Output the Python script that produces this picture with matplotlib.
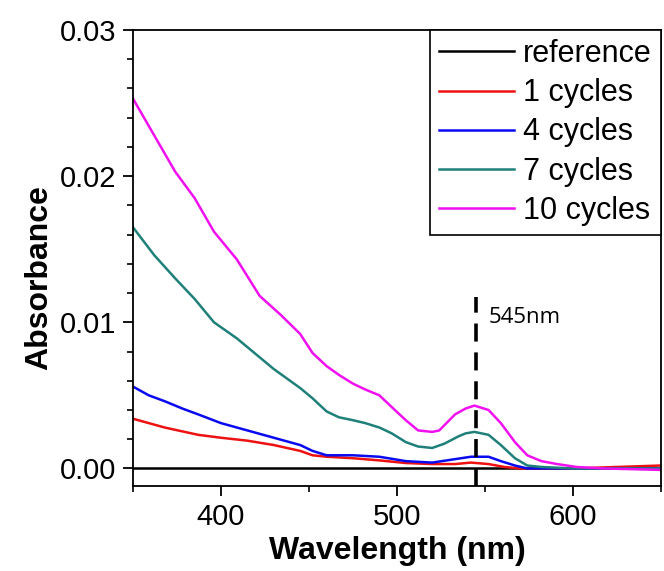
import matplotlib
matplotlib.use('Agg')
import matplotlib.pyplot as plt
from matplotlib.ticker import MultipleLocator, FormatStrFormatter

plt.rcParams['font.family'] = ['Liberation Sans', 'DejaVu Sans']

# values (wavelength in nm, absorbance)
wl_ref = [350, 400, 450, 500, 550, 600, 650]
abs_ref = [0.0000, 0.0000, 0.0000, 0.0000, 0.0000, 0.0000, 0.0000]

wl_1 = [350, 359, 368, 387, 400, 415, 430, 445, 452, 460, 475, 490, 505, 520, 524, 533,
        542, 552, 561, 570, 600, 625, 650]
abs_1 = [0.0034, 0.0031, 0.0028, 0.0023, 0.0021, 0.0019, 0.0016, 0.0012, 0.0009, 0.0008,
         0.0007, 0.00055, 0.00037, 0.0003, 0.0003, 0.0003, 0.0004, 0.0003, 0.0001, 0.0000,
         0.0000, 0.0001, 0.0002]

wl_4 = [350, 359, 368, 378, 387, 400, 415, 430, 445, 452, 460, 475, 490, 505, 520, 531,
        542, 552, 559, 567, 574, 650]
abs_4 = [0.0056, 0.0050, 0.0046, 0.0041, 0.0037, 0.0031, 0.0026, 0.0021, 0.0016, 0.0012,
         0.0009, 0.0009, 0.0008, 0.0005, 0.0004, 0.0006, 0.0008, 0.0008, 0.0005, 0.0002,
         0.0000, 0.0000]

wl_7 = [350, 362, 374, 385, 396, 409, 421, 430, 445, 452, 460, 467, 475, 482, 490, 497,
        505, 512, 520, 527, 535, 539, 544, 552, 559, 567, 574, 582, 600, 650]
abs_7 = [0.0165, 0.0146, 0.0130, 0.0116, 0.0100, 0.0089, 0.0077, 0.0068, 0.0055, 0.0048,
         0.0039, 0.0035, 0.0033, 0.0031, 0.0028, 0.0024, 0.0018, 0.0015, 0.0014, 0.0017,
         0.0022, 0.0024, 0.0025, 0.0023, 0.0016, 0.0007, 0.0002, 0.0001, 0.0000, 0.0000]

wl_10 = [350, 362, 374, 385, 396, 409, 422, 434, 445, 452, 460, 467, 475, 482, 490, 497,
         505, 512, 520, 524, 533, 539, 544, 552, 559, 567, 574, 582, 591, 602, 617, 650]
abs_10 = [0.0253, 0.0228, 0.0203, 0.0185, 0.0162, 0.0143, 0.0118, 0.0105, 0.0092, 0.0079,
          0.0070, 0.0064, 0.0058, 0.0054, 0.0050, 0.0042, 0.0033, 0.0026, 0.0025, 0.0026,
          0.0037, 0.0041, 0.0043, 0.0040, 0.0031, 0.0018, 0.0009, 0.0005, 0.0003, 0.0001,
          0.0000, -0.0001]

series = [
    ('reference', wl_ref, abs_ref, 'black'),
    ('1 cycles', wl_1, abs_1, '#ee1111'),
    ('4 cycles', wl_4, abs_4, '#0a0af0'),
    ('7 cycles', wl_7, abs_7, '#1f807a'),
    ('10 cycles', wl_10, abs_10, '#f010f0'),
]

peak_wl = 545

fig = plt.figure(figsize=(6.64, 5.71), dpi=100)
ax = fig.add_axes([0.2003, 0.1489, 0.7952, 0.7986])

for label, x, y, color in series:
    ax.plot(x, y, color=color, lw=1.8, label=label)

# dashed marker at the plasmon peak
ax.plot([peak_wl, peak_wl], [-0.0012, 0.0117], color='black', lw=2.6,
        linestyle=(0, (5, 3)))
ax.text(peak_wl + 7, 0.0103, '545nm', fontsize=16, family=['Open Sans', 'DejaVu Sans'],
        va='center', ha='left')

ax.set_xlim(350, 650)
ax.set_ylim(-0.0012, 0.03)
ax.xaxis.set_major_locator(MultipleLocator(100))
ax.xaxis.set_minor_locator(MultipleLocator(50))
ax.yaxis.set_major_locator(MultipleLocator(0.01))
ax.yaxis.set_minor_locator(MultipleLocator(0.002))
ax.yaxis.set_major_formatter(FormatStrFormatter('%.2f'))

ax.tick_params(which='major', direction='out', length=7, width=1.3, labelsize=21, pad=5)
ax.tick_params(which='minor', direction='out', length=4, width=1.2)
for s in ax.spines.values():
    s.set_linewidth(1.3)

ax.set_xlabel('Wavelength (nm)', fontsize=23, fontweight='bold', labelpad=4)
ax.set_ylabel('Absorbance', fontsize=23, fontweight='bold', labelpad=4)
ax.yaxis.label.set_y(0.458)

leg = ax.legend(loc='upper right', fontsize=22, frameon=True, fancybox=False,
                edgecolor='black', framealpha=1, borderaxespad=0, borderpad=0.3,
                handlelength=2.45, handletextpad=0.3, labelspacing=0.3)
leg.get_frame().set_linewidth(1.2)

fig.savefig('out.png', dpi=100)
